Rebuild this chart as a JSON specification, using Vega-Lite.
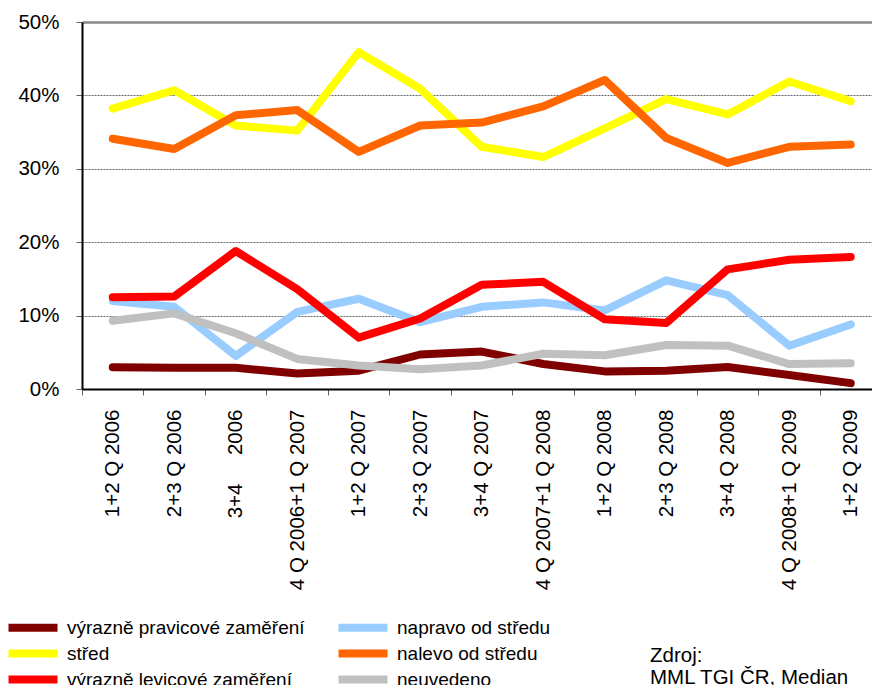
{
  "$schema": "https://vega.github.io/schema/vega-lite/v6.json",
  "width": 790,
  "height": 367,
  "autosize": {"type": "none"},
  "padding": {"left": 82, "top": 22, "right": 0, "bottom": 296},
  "background": "white",
  "config": {
    "font": "Liberation Sans",
    "view": {"stroke": null},
    "axis": {"labelFont": "Liberation Sans", "labelColor": "black"}
  },
  "title": {
    "text": ["Zdroj:", "MML TGI ČR, Median"],
    "orient": "top",
    "anchor": "start",
    "frame": "group",
    "dx": 568,
    "dy": 676,
    "offset": 0,
    "fontSize": 20.5,
    "fontWeight": "normal",
    "lineHeight": 22,
    "color": "black"
  },
  "data": {
    "values": [
      {"s": "výrazně pravicové zaměření", "q": "1+2 Q 2006", "v": 0.0295},
      {"s": "výrazně pravicové zaměření", "q": "2+3 Q 2006", "v": 0.029},
      {"s": "výrazně pravicové zaměření", "q": "3+4\u00a0\u00a0\u00a0\u00a0\u00a02006", "v": 0.029},
      {"s": "výrazně pravicové zaměření", "q": "4 Q 2006+1 Q 2007", "v": 0.021},
      {"s": "výrazně pravicové zaměření", "q": "1+2 Q 2007", "v": 0.025},
      {"s": "výrazně pravicové zaměření", "q": "2+3 Q 2007", "v": 0.047},
      {"s": "výrazně pravicové zaměření", "q": "3+4 Q 2007", "v": 0.051},
      {"s": "výrazně pravicové zaměření", "q": "4 Q 2007+1 Q 2008", "v": 0.034},
      {"s": "výrazně pravicové zaměření", "q": "1+2 Q 2008", "v": 0.024},
      {"s": "výrazně pravicové zaměření", "q": "2+3 Q 2008", "v": 0.025},
      {"s": "výrazně pravicové zaměření", "q": "3+4 Q 2008", "v": 0.030},
      {"s": "výrazně pravicové zaměření", "q": "4 Q 2008+1 Q 2009", "v": 0.019},
      {"s": "výrazně pravicové zaměření", "q": "1+2 Q 2009", "v": 0.008},

      {"s": "napravo od středu", "q": "1+2 Q 2006", "v": 0.120},
      {"s": "napravo od středu", "q": "2+3 Q 2006", "v": 0.112},
      {"s": "napravo od středu", "q": "3+4\u00a0\u00a0\u00a0\u00a0\u00a02006", "v": 0.045},
      {"s": "napravo od středu", "q": "4 Q 2006+1 Q 2007", "v": 0.105},
      {"s": "napravo od středu", "q": "1+2 Q 2007", "v": 0.123},
      {"s": "napravo od středu", "q": "2+3 Q 2007", "v": 0.091},
      {"s": "napravo od středu", "q": "3+4 Q 2007", "v": 0.112},
      {"s": "napravo od středu", "q": "4 Q 2007+1 Q 2008", "v": 0.118},
      {"s": "napravo od středu", "q": "1+2 Q 2008", "v": 0.107},
      {"s": "napravo od středu", "q": "2+3 Q 2008", "v": 0.148},
      {"s": "napravo od středu", "q": "3+4 Q 2008", "v": 0.128},
      {"s": "napravo od středu", "q": "4 Q 2008+1 Q 2009", "v": 0.059},
      {"s": "napravo od středu", "q": "1+2 Q 2009", "v": 0.088},

      {"s": "střed", "q": "1+2 Q 2006", "v": 0.382},
      {"s": "střed", "q": "2+3 Q 2006", "v": 0.407},
      {"s": "střed", "q": "3+4\u00a0\u00a0\u00a0\u00a0\u00a02006", "v": 0.359},
      {"s": "střed", "q": "4 Q 2006+1 Q 2007", "v": 0.352},
      {"s": "střed", "q": "1+2 Q 2007", "v": 0.459},
      {"s": "střed", "q": "2+3 Q 2007", "v": 0.409},
      {"s": "střed", "q": "3+4 Q 2007", "v": 0.330},
      {"s": "střed", "q": "4 Q 2007+1 Q 2008", "v": 0.316},
      {"s": "střed", "q": "1+2 Q 2008", "v": 0.355},
      {"s": "střed", "q": "2+3 Q 2008", "v": 0.395},
      {"s": "střed", "q": "3+4 Q 2008", "v": 0.374},
      {"s": "střed", "q": "4 Q 2008+1 Q 2009", "v": 0.419},
      {"s": "střed", "q": "1+2 Q 2009", "v": 0.392},

      {"s": "nalevo od středu", "q": "1+2 Q 2006", "v": 0.341},
      {"s": "nalevo od středu", "q": "2+3 Q 2006", "v": 0.327},
      {"s": "nalevo od středu", "q": "3+4\u00a0\u00a0\u00a0\u00a0\u00a02006", "v": 0.373},
      {"s": "nalevo od středu", "q": "4 Q 2006+1 Q 2007", "v": 0.380},
      {"s": "nalevo od středu", "q": "1+2 Q 2007", "v": 0.323},
      {"s": "nalevo od středu", "q": "2+3 Q 2007", "v": 0.359},
      {"s": "nalevo od středu", "q": "3+4 Q 2007", "v": 0.363},
      {"s": "nalevo od středu", "q": "4 Q 2007+1 Q 2008", "v": 0.385},
      {"s": "nalevo od středu", "q": "1+2 Q 2008", "v": 0.421},
      {"s": "nalevo od středu", "q": "2+3 Q 2008", "v": 0.342},
      {"s": "nalevo od středu", "q": "3+4 Q 2008", "v": 0.308},
      {"s": "nalevo od středu", "q": "4 Q 2008+1 Q 2009", "v": 0.330},
      {"s": "nalevo od středu", "q": "1+2 Q 2009", "v": 0.333},

      {"s": "výrazně levicové zaměření", "q": "1+2 Q 2006", "v": 0.125},
      {"s": "výrazně levicové zaměření", "q": "2+3 Q 2006", "v": 0.126},
      {"s": "výrazně levicové zaměření", "q": "3+4\u00a0\u00a0\u00a0\u00a0\u00a02006", "v": 0.188},
      {"s": "výrazně levicové zaměření", "q": "4 Q 2006+1 Q 2007", "v": 0.136},
      {"s": "výrazně levicové zaměření", "q": "1+2 Q 2007", "v": 0.070},
      {"s": "výrazně levicové zaměření", "q": "2+3 Q 2007", "v": 0.096},
      {"s": "výrazně levicové zaměření", "q": "3+4 Q 2007", "v": 0.142},
      {"s": "výrazně levicové zaměření", "q": "4 Q 2007+1 Q 2008", "v": 0.146},
      {"s": "výrazně levicové zaměření", "q": "1+2 Q 2008", "v": 0.095},
      {"s": "výrazně levicové zaměření", "q": "2+3 Q 2008", "v": 0.090},
      {"s": "výrazně levicové zaměření", "q": "3+4 Q 2008", "v": 0.163},
      {"s": "výrazně levicové zaměření", "q": "4 Q 2008+1 Q 2009", "v": 0.176},
      {"s": "výrazně levicové zaměření", "q": "1+2 Q 2009", "v": 0.180},

      {"s": "neuvedeno", "q": "1+2 Q 2006", "v": 0.093},
      {"s": "neuvedeno", "q": "2+3 Q 2006", "v": 0.103},
      {"s": "neuvedeno", "q": "3+4\u00a0\u00a0\u00a0\u00a0\u00a02006", "v": 0.076},
      {"s": "neuvedeno", "q": "4 Q 2006+1 Q 2007", "v": 0.041},
      {"s": "neuvedeno", "q": "1+2 Q 2007", "v": 0.032},
      {"s": "neuvedeno", "q": "2+3 Q 2007", "v": 0.027},
      {"s": "neuvedeno", "q": "3+4 Q 2007", "v": 0.032},
      {"s": "neuvedeno", "q": "4 Q 2007+1 Q 2008", "v": 0.048},
      {"s": "neuvedeno", "q": "1+2 Q 2008", "v": 0.046},
      {"s": "neuvedeno", "q": "2+3 Q 2008", "v": 0.060},
      {"s": "neuvedeno", "q": "3+4 Q 2008", "v": 0.059},
      {"s": "neuvedeno", "q": "4 Q 2008+1 Q 2009", "v": 0.034},
      {"s": "neuvedeno", "q": "1+2 Q 2009", "v": 0.035}
    ]
  },
  "mark": {"type": "line", "strokeWidth": 8, "strokeCap": "round", "strokeJoin": "round"},
  "encoding": {
    "x": {
      "field": "q",
      "type": "ordinal",
      "sort": null,
      "scale": {"type": "point", "padding": 0.4228, "align": 0.591},
      "axis": {
        "title": null,
        "labelAngle": 270,
        "labelAlign": "right",
        "labelBaseline": "middle",
        "labelFontSize": 20.5,
        "labelPadding": 14,
        "tickSize": 6,
        "tickColor": "#606060",
        "tickWidth": 1,
        "tickOffset": -30.75,
        "labelOffset": 30.75,
        "domainColor": "black",
        "domainWidth": 2,
        "labelLimit": 400,
        "labelOverlap": false,
        "grid": false
      }
    },
    "y": {
      "field": "v",
      "type": "quantitative",
      "scale": {"domain": [0, 0.5], "nice": false},
      "axis": {
        "title": null,
        "format": ".0%",
        "values": [0, 0.1, 0.2, 0.3, 0.4, 0.5],
        "labelFontSize": 20.5,
        "labelPadding": 17,
        "tickSize": 6,
        "tickColor": "#606060",
        "domainColor": "black",
        "domainWidth": 2,
        "grid": true,
        "gridColor": {"condition": {"test": "datum.value >= 0.5", "value": "#888888"}, "value": "#666666"},
        "gridWidth": {"condition": {"test": "datum.value >= 0.5", "value": 2.5}, "value": 1},
        "gridDash": {"condition": {"test": "datum.value >= 0.5", "value": []}, "value": [2, 1]}
      }
    },
    "color": {
      "field": "s",
      "type": "nominal",
      "scale": {
        "domain": ["výrazně pravicové zaměření", "napravo od středu", "střed", "nalevo od středu", "výrazně levicové zaměření", "neuvedeno"],
        "range": ["#800000", "#99CCFF", "#FFFF00", "#FF6600", "#FF0000", "#C0C0C0"]
      },
      "legend": {
        "title": null,
        "orient": "none",
        "legendX": -58.5,
        "legendY": 596,
        "columns": 2,
        "direction": "horizontal",
        "symbolType": "M-4.9,0H4.9",
        "symbolStrokeWidth": 8,
        "symbolSize": 100,
        "labelFontSize": 19,
        "labelOffset": 24.5,
        "labelLimit": 400,
        "labelColor": "black",
        "columnPadding": 17,
        "rowPadding": -22
      }
    }
  }
}
